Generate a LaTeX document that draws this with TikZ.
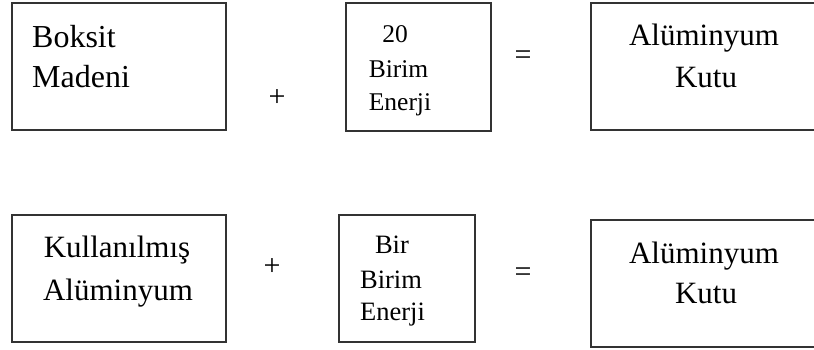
\documentclass[tikz,border=0pt]{standalone}
\usepackage{fontspec}
\setmainfont{Liberation Serif}
\tikzset{
  box/.style={draw=black!80, line width=1.5pt, rectangle, inner sep=0pt},
  lbl/.style={anchor=base, inner sep=0pt},
  op/.style={inner sep=0pt, font=\fontsize{30}{30}\selectfont},
  big/.style={font=\fontsize{31}{31}\selectfont},
  small/.style={font=\fontsize{25.5}{25.5}\selectfont}
}
\begin{document}
\begin{tikzpicture}[x=1pt,y=-1pt]
\useasboundingbox (0,0) rectangle (814,349);
% boxes
\node[box, minimum width=214pt, minimum height=127pt] (b1) at (119,66.5) {};
\node[box, minimum width=145pt, minimum height=128pt] (b2) at (418.5,67) {};
\node[box, minimum width=239pt, minimum height=127pt] (b3) at (710.5,66.5) {};
\node[box, minimum width=214pt, minimum height=127pt] (b4) at (119,278.5) {};
\node[box, minimum width=136pt, minimum height=127pt] (b5) at (407,278.5) {};
\node[box, minimum width=239pt, minimum height=127pt] (b6) at (710.5,283.5) {};
% texts
\node[lbl, big, anchor=base west, font=\fontsize{32}{32}\selectfont] (t1a) at (32,47) {Boksit};
\node[lbl, big, anchor=base west, font=\fontsize{32}{32}\selectfont] (t1b) at (32,87) {Madeni};
\node[lbl, small] (t2a) at (395,42) {20};
\node[lbl, small] (t2b) at (398.5,77) {Birim};
\node[lbl, small] (t2c) at (400,110) {Enerji};
\node[lbl, big] (t3a) at (704,45) {Alüminyum};
\node[lbl, big] (t3b) at (706,87) {Kutu};
\node[lbl, big] (t4a) at (117,257) {Kullanılmış};
\node[lbl, big] (t4b) at (118,300) {Alüminyum};
\node[lbl, small, font=\fontsize{26.5}{26.5}\selectfont] (t5a) at (392,253) {Bir};
\node[lbl, small, font=\fontsize{26.5}{26.5}\selectfont] (t5b) at (391,288) {Birim};
\node[lbl, small, font=\fontsize{26.5}{26.5}\selectfont] (t5c) at (392.5,320) {Enerji};
\node[lbl, big] (t6a) at (704,263) {Alüminyum};
\node[lbl, big] (t6b) at (706,303) {Kutu};
% operators
\node[op] (p1) at (277,98) {+};
\node[op] (e1) at (523,58) {=};
\node[op] (p2) at (272,267) {+};
\node[op] (e2) at (523,275) {=};
\end{tikzpicture}
\end{document}
